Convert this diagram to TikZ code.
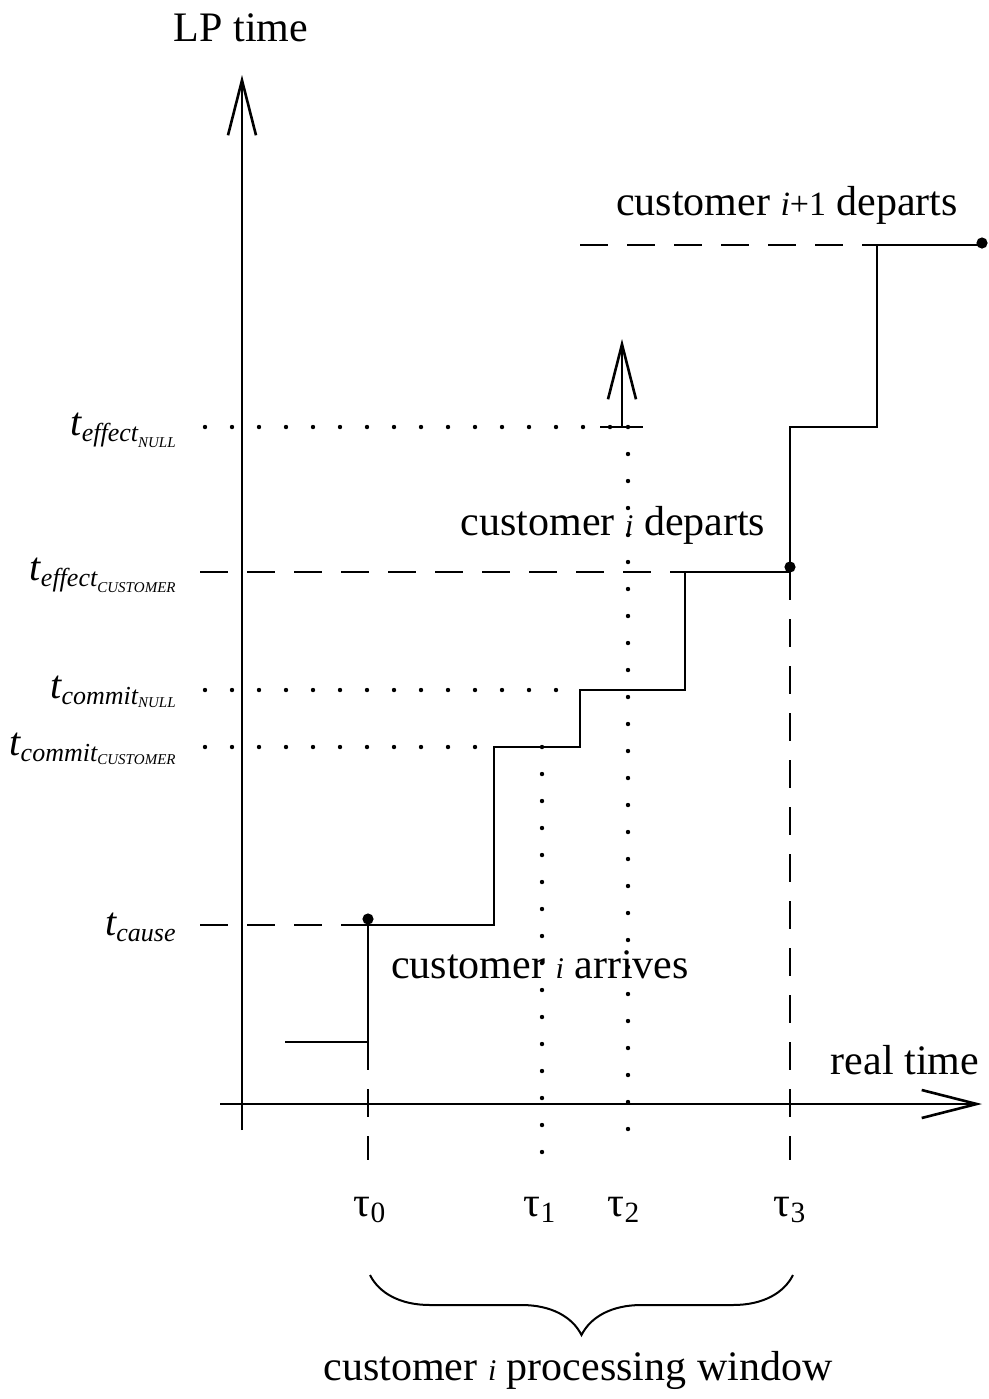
\documentclass[tikz,border=0pt]{standalone}
\usepackage{fontspec}
\setmainfont{Liberation Serif}
\usetikzlibrary{arrows.meta}
\usetikzlibrary{decorations.pathreplacing}
\DeclareMathSizes{20}{20}{13}{7.5}

\newcommand{\bigtext}{\fontsize{21}{25}\selectfont}
\newcommand{\cust}{{\fontsize{15}{18}\selectfont\itshape i}}
\newcommand{\lvl}[2]{{\fontsize{20}{24}\selectfont$\mathit{t}_{\mathit{#1}_{\mathit{#2}}}$}}

\begin{document}
\begin{tikzpicture}
                [
                    x=0.5pt, y=-0.5pt,
                    axis/.style = {line width=1.3pt, -{Straight Barb[length=27.5pt, width=14pt, line width=1.3pt]}},
                    stepline/.style = {line width=1.3pt, line join=miter},
                    dashline/.style = {line width=1.3pt, dash pattern=on 14pt off 9.5pt},
                    dotline/.style = {line width=2.2pt, line cap=round, dash pattern=on 0pt off 13.5pt},
                    txt/.style = {inner sep=0pt, font=\bigtext},
                    tau/.style = {inner sep=0pt, font=\fontsize{21}{24}\selectfont},
                    lvllabel/.style = {inner sep=0pt, anchor=base east}
                ]
                \useasboundingbox (0,0) rectangle (989,1399);

                % axes
                \coordinate (ybot) at (242,1130);
                \coordinate (ytop) at (242,75);
                \coordinate (xleft) at (220,1104);
                \coordinate (xright) at (982,1104);
                \draw[axis] (ybot) -- (ytop);
                \draw[axis] (xleft) -- (xright);
                \node (lptime) [txt] at (241,28) {LP time};
                \node (realtime) [txt] at (905,1060) {real time};

                % levels on the LP time axis
                \node (enull) [lvllabel] at (178,435) {\lvl{effect}{NULL}};
                \node (ecust) [lvllabel] at (178,580) {\lvl{effect}{CUSTOMER}};
                \node (cnull) [lvllabel] at (178,698) {\lvl{commit}{NULL}};
                \node (ccust) [lvllabel] at (178,755) {\lvl{commit}{CUSTOMER}};
                \node (cause) [lvllabel] at (178,935) {\lvl{cause}{}};

                % instants on the real time axis
                \node (tau0) [tau] at (370,1210) {τ\textsubscript{0}};
                \node (tau1) [tau] at (540,1210) {τ\textsubscript{1}};
                \node (tau2) [tau] at (624,1210) {τ\textsubscript{2}};
                \node (tau3) [tau] at (790,1210) {τ\textsubscript{3}};

                % corners of the LVT curve
                \coordinate (s0) at (285,1042);
                \coordinate (s1) at (368,925);
                \coordinate (s2) at (494,747);
                \coordinate (s3) at (580,690);
                \coordinate (s4) at (685,572);
                \coordinate (s5) at (790,427);
                \coordinate (s6) at (877,245);
                \coordinate (s7) at (982,245);

                \draw[dashline] (200,925) -- (s1);
                \draw[dashline] (200,572) -- (s4);
                \draw[dashline] (580,245) -- (s6);
                \draw[dashline] (368,1042) -- (368,1160);
                \draw[dashline] (790,572) -- (790,1160);

                \draw[dotline] (205,427) -- (628,427);
                \draw[dotline] (205,690) -- (s3);
                \draw[dotline] (205,747) -- (s2);
                \draw[dotline] (542,747) -- (542,1156);
                \draw[dotline] (628,427) -- (628,1156);

                \draw[stepline] (s0) -| (s1) -| (s2) -| (s3) -| (s4) -| (790,572) |- (s5) -| (s6) -- (s7);
                \draw[stepline] (368,1042) -- (s1);

                % null message sent ahead
                \draw[stepline] (600,427) -- (643,427);
                \draw[axis] (622,427) -- (622,339);

                \foreach \p in {(368,919), (790,567), (982,243)}
                    \fill \p circle (2.8pt);

                \node (arrives) [txt] at (540,965) {customer \cust{} arrives};
                \node (departs) [txt] at (613,525) {customer \cust{} departs};
                \node (departsnext) [txt] at (787,205) {customer {\fontsize{17}{20}\selectfont\itshape i\upshape+1} departs};

                \draw[line width=1pt, decorate, decoration={brace, mirror, amplitude=30pt}] (370,1275) -- (793,1275);
                \node (window) [txt] at (578,1370) {customer \cust{} processing window};

            \end{tikzpicture}
\end{document}
